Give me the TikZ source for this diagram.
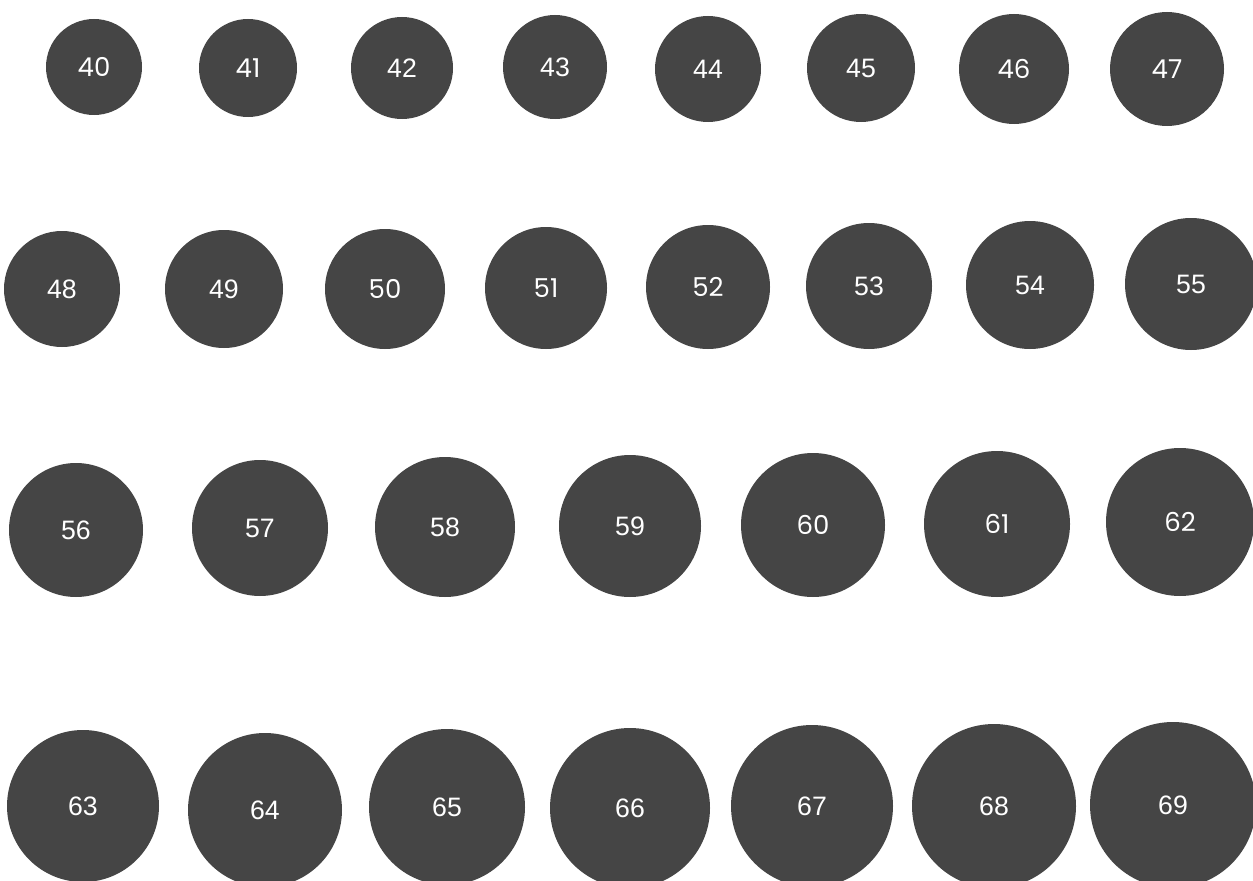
\documentclass[tikz,border=0pt]{standalone}
\usepackage{fontspec}
\newfontfamily\arialfont{Liberation Sans}
\newfontfamily\poppinsfont{Poppins}
\definecolor{ballgray}{RGB}{69,69,69}

\begin{document}
\begin{tikzpicture}[x=0.75pt, y=-0.75pt,
    ball/.style={circle, fill=ballgray, text=white, inner sep=0pt, minimum size=#1*1.5pt, font=\arialfont\fontsize{20}{20}\selectfont},
    geo/.style={font=\poppinsfont\fontsize{19.5}{19.5}\selectfont}]
    \path[use as bounding box, fill=white] (0,0) rectangle (1253,881);
    \clip (0,0) rectangle (1253,881);
    % first row
    \node[ball=48, geo] (n40) at (94,67) {40};
    \node[ball=49, geo] (n41) at (248,68) {41};
    \node[ball=51] (n42) at (402,68) {42};
    \node[ball=52] (n43) at (555,67) {43};
    \node[ball=53] (n44) at (708,69) {44};
    \node[ball=54] (n45) at (861,68) {45};
    \node[ball=55, geo] (n46) at (1014,69) {46};
    \node[ball=57, geo] (n47) at (1167,69) {47};
    % second row
    \node[ball=58] (n48) at (62,289) {48};
    \node[ball=59] (n49) at (224,289) {49};
    \node[ball=60, geo] (n50) at (385,289) {50};
    \node[ball=61, geo] (n51) at (546,288) {51};
    \node[ball=62, geo] (n52) at (708,287) {52};
    \node[ball=63] (n53) at (869,286) {53};
    \node[ball=64] (n54) at (1030,285) {54};
    \node[ball=66] (n55) at (1191,284) {55};
    % third row
    \node[ball=67] (n56) at (76,530) {56};
    \node[ball=68] (n57) at (260,528) {57};
    \node[ball=70] (n58) at (445,527) {58};
    \node[ball=71] (n59) at (630,526) {59};
    \node[ball=72, geo] (n60) at (813,525) {60};
    \node[ball=73, geo] (n61) at (997,524) {61};
    \node[ball=74, geo] (n62) at (1180,522) {62};
    % fourth row
    \node[ball=76] (n63) at (83,806) {63};
    \node[ball=77] (n64) at (265,810) {64};
    \node[ball=78] (n65) at (447,807) {65};
    \node[ball=80] (n66) at (630,808) {66};
    \node[ball=81] (n67) at (812,806) {67};
    \node[ball=82] (n68) at (994,806) {68};
    \node[ball=83] (n69) at (1173,805) {69};
\end{tikzpicture}
\end{document}
